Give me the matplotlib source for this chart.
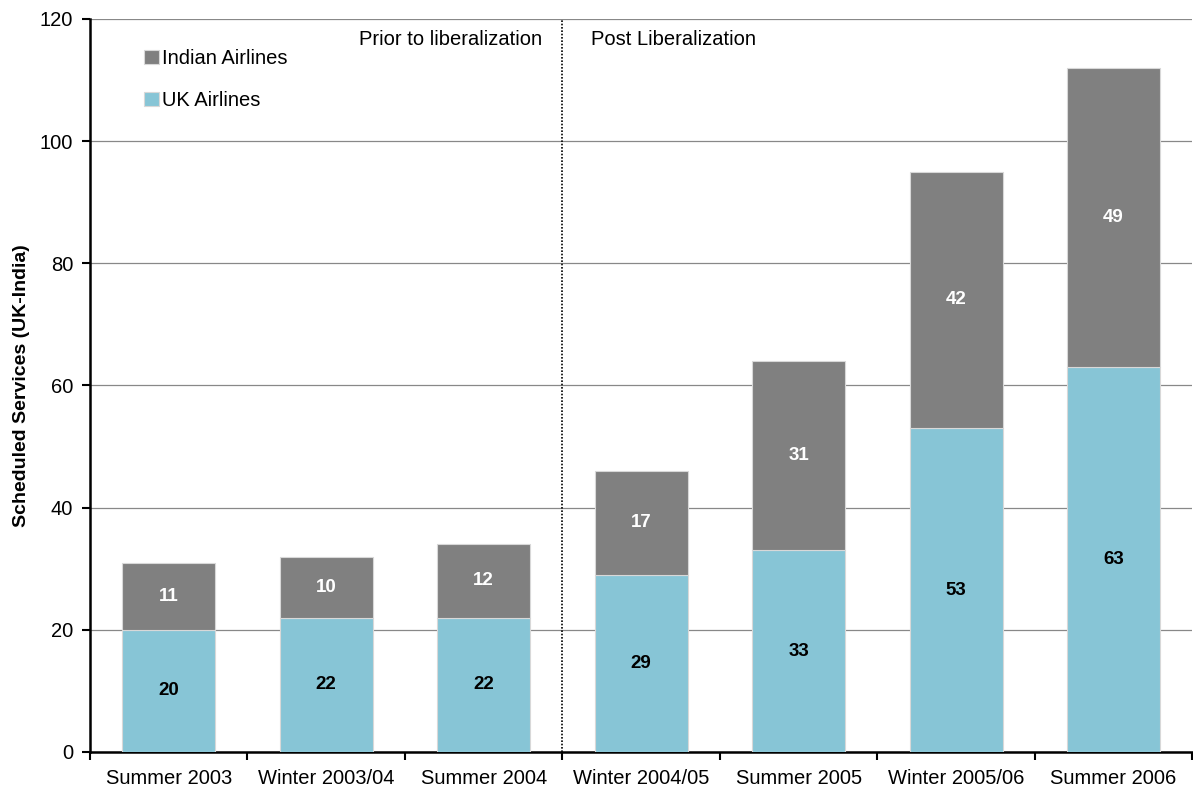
import numpy as np
import matplotlib
matplotlib.use("Agg")
import matplotlib.pyplot as plt

plt.rcParams['font.family'] = ['Liberation Sans', 'DejaVu Sans']

seasons = ["Summer 2003", "Winter 2003/04", "Summer 2004", "Winter 2004/05",
           "Summer 2005", "Winter 2005/06", "Summer 2006"]
uk = [20, 22, 22, 29, 33, 53, 63]
indian = [11, 10, 12, 17, 31, 42, 49]

col_uk = "#87c5d6"
col_in = "#808080"

fig = plt.figure(figsize=(11.93, 7.88), dpi=100)
ax = fig.add_axes([0.0754, 0.0457, 0.924, 0.9302])

x = np.arange(len(seasons))
w = 0.59
b1 = ax.bar(x, uk, w, color=col_uk, edgecolor="#d8d8d8", linewidth=0.8, label="UK Airlines", zorder=3)
b2 = ax.bar(x, indian, w, bottom=uk, color=col_in, edgecolor="#d8d8d8", linewidth=0.8,
            label="Indian Airlines", zorder=3)

for i in range(len(seasons)):
    ax.text(x[i], uk[i] / 2, str(uk[i]), ha="center", va="center",
            fontsize=13.5, fontweight="bold", color="black", zorder=4)
    ax.text(x[i], uk[i] + indian[i] / 2, str(indian[i]), ha="center", va="center",
            fontsize=13.5, fontweight="bold", color="white", zorder=4)

ax.set_xlim(-0.5, len(seasons) - 0.5)
ax.set_ylim(0, 120)
ax.set_yticks(np.arange(0, 121, 20))
ax.yaxis.grid(True, color="#888888", linewidth=0.9, zorder=0)
ax.set_axisbelow(True)

ax.set_xticks(x)
ax.set_xticklabels(seasons, fontsize=14.5)
ax.set_xticks(np.arange(-0.5, len(seasons), 1), minor=True)
ax.tick_params(axis="x", which="major", length=0, pad=12)
ax.tick_params(axis="x", which="minor", length=6, width=1.5, direction="out")
ax.tick_params(axis="y", length=6, width=1.5, labelsize=14.5, pad=6)

for s in ["top", "right"]:
    ax.spines[s].set_visible(False)
ax.spines["left"].set_linewidth(1.8)
ax.spines["bottom"].set_linewidth(1.8)

ax.set_ylabel("Scheduled Services (UK-India)", fontsize=14, fontweight="bold", labelpad=7)

# split between the two periods
ax.axvline(2.5, ymin=0, ymax=1, color="black", linestyle=(0, (1, 1)), linewidth=1.2, zorder=2)
ax.text(2.37, 116.6, "Prior to liberalization", ha="right", va="center", fontsize=14.5)
ax.text(2.68, 116.6, "Post Liberalization", ha="left", va="center", fontsize=14.5)

handles = [b2, b1]
leg = ax.legend(handles, ["Indian Airlines", "UK Airlines"], loc="upper left",
                bbox_to_anchor=(0.033, 0.984), frameon=False, fontsize=14.5,
                handlelength=0.7, handleheight=0.7, handletextpad=0.15, labelspacing=1.15)

fig.savefig("out.png", dpi=100)
